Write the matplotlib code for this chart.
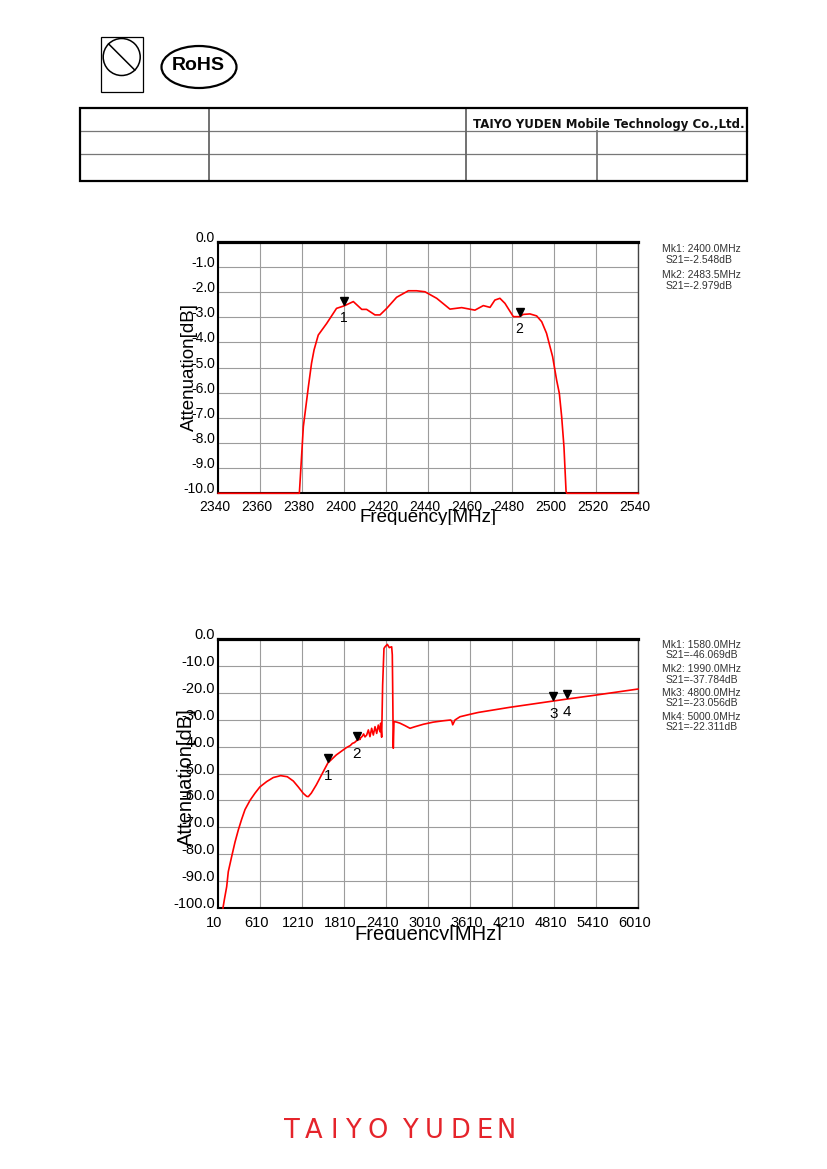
import matplotlib
matplotlib.use('Agg')
import matplotlib.pyplot as plt
from matplotlib.patches import Rectangle, Ellipse
from matplotlib.transforms import ScaledTranslation, Bbox, TransformedBbox, Affine2D

plt.rcParams['font.family'] = ['Liberation Sans', 'DejaVu Sans']

W, H, DPI = 827, 1169, 100

# ---------------- data: narrow band (passband) ----------------
nb_freq = [2340.0, 2378.6, 2380.5, 2382.9, 2384.4, 2385.6, 2387.6, 2391.6, 2396.3, 2400.0,
           2404.3, 2408.3, 2410.6, 2414.6, 2417.0, 2420.2, 2424.9, 2430.5, 2434.4, 2438.4,
           2444.0, 2450.3, 2455.9, 2462.2, 2466.2, 2469.4, 2471.7, 2474.1, 2476.5, 2480.5,
           2483.5, 2485.2, 2488.4, 2491.6, 2494.0, 2496.3, 2499.2, 2501.1, 2502.4, 2503.5,
           2504.6, 2505.6, 2506.0, 2540.0]
nb_db = [-10.0, -10.0, -7.35, -5.76, -4.83, -4.30, -3.71, -3.25, -2.65, -2.548,
         -2.38, -2.69, -2.69, -2.91, -2.91, -2.65, -2.21, -1.95, -1.95, -1.99,
         -2.25, -2.68, -2.62, -2.72, -2.54, -2.61, -2.32, -2.25, -2.45, -2.98,
         -2.979, -2.89, -2.87, -2.95, -3.18, -3.64, -4.57, -5.50, -6.03, -6.95,
         -8.15, -9.93, -10.0, -10.0]
nb_mk_freq = [2400.0, 2483.5]
nb_mk_db = [-2.548, -2.979]
nb_xticks = [2340, 2360, 2380, 2400, 2420, 2440, 2460, 2480, 2500, 2520, 2540]
nb_yticks = [0.0, -1.0, -2.0, -3.0, -4.0, -5.0, -6.0, -7.0, -8.0, -9.0, -10.0]

# ---------------- data: wide band ----------------
wb_freq = [81, 100, 134, 157, 205, 253, 300, 348, 396, 467,
           539, 608, 706, 800, 905, 1000, 1086, 1157, 1229, 1277,
           1300, 1343, 1415, 1510, 1580, 1700, 1843, 1900, 1930, 1960,
           1990, 2010, 2025, 2035, 2050, 2070, 2090, 2110, 2134, 2158,
           2181, 2205, 2229, 2253, 2277, 2300, 2324, 2334, 2348, 2352,
           2362, 2381, 2396, 2429, 2457, 2491, 2500, 2505, 2514, 2524,
           2563, 2610, 2681, 2753, 2824, 2943, 3086, 3229, 3334, 3350,
           3363, 3396, 3467, 3610, 3729, 4177, 4800, 5000, 5367, 6010]
wb_db = [-100.0, -97.0, -92.1, -86.5, -80.9, -75.5, -71.0, -67.0, -63.4, -60.0,
         -57.3, -55.0, -53.0, -51.5, -50.8, -51.2, -52.8, -55.0, -57.4, -58.5,
         -58.6, -57.3, -54.2, -49.5, -46.069, -43.1, -40.4, -39.6, -38.8, -38.5,
         -37.784, -37.6, -36.0, -37.4, -36.7, -36.2, -35.3, -36.4, -35.7, -33.8,
         -36.3, -33.2, -35.7, -32.6, -35.1, -32.0, -34.5, -31.3, -36.5, -31.0,
         -17.1, -3.5, -2.9, -2.0, -3.2, -2.9, -5.9, -17.1, -40.6, -30.7,
         -30.9, -31.3, -32.2, -33.2, -32.6, -31.7, -30.9, -30.4, -30.1, -30.6,
         -31.9, -30.1, -28.9, -28.0, -27.3, -25.4, -23.056, -22.311, -21.0, -18.6]
wb_mk_freq = [1580.0, 1990.0, 4800.0, 5000.0]
wb_mk_db = [-46.069, -37.784, -23.056, -22.311]
wb_xticks = [10, 610, 1210, 1810, 2410, 3010, 3610, 4210, 4810, 5410, 6010]
wb_yticks = [0.0, -10.0, -20.0, -30.0, -40.0, -50.0, -60.0, -70.0, -80.0, -90.0, -100.0]

RED = '#ff0000'
GRID = '#9c9c9c'

fig = plt.figure(figsize=(W / DPI, H / DPI), dpi=DPI)
fig.patch.set_facecolor('white')


def px_rect(l, t, r, b):
    return [l / W, 1 - b / H, (r - l) / W, (b - t) / H]


def px_off(dx, dy):
    # offset in pixels (dy positive = up)
    return ScaledTranslation(dx / DPI, dy / DPI, fig.dpi_scale_trans)


def setup_axes(ax, xticks, yticks, xlim, ylim, fs, xpad):
    ax.set_xlim(*xlim)
    ax.set_ylim(*ylim)
    ax.set_xticks(xticks, [str(v) for v in xticks])
    ax.set_yticks(yticks, ['%.1f' % v for v in yticks], va='baseline')
    ax.tick_params(axis='both', length=0, labelsize=fs, colors='black')
    ax.tick_params(axis='x', pad=xpad)
    ax.tick_params(axis='y', pad=2.3)
    ax.grid(True, color=GRID, lw=0.8)
    ax.set_axisbelow(True)
    ax.spines['top'].set_linewidth(2.3)
    ax.spines['left'].set_linewidth(1.5)
    ax.spines['bottom'].set_linewidth(1.5)
    ax.spines['right'].set_linewidth(1.0)
    ax.spines['right'].set_color('#444444')
    for lab in ax.get_xticklabels():
        lab.set_transform(lab.get_transform() + px_off(-3.5, 0))


def draw_markers(ax, mf, md, fs, lab_dy):
    tri = ax.transData + px_off(0, 5)
    ax.plot(mf, md, ls='none', marker='v', ms=5.5, color='black', transform=tri,
            zorder=4, clip_on=False)
    for i, (f, d) in enumerate(zip(mf, md)):
        ax.annotate(str(i + 1), (f, d), xytext=(0, -lab_dy * 72 / DPI),
                    textcoords='offset points', ha='center', va='center',
                    fontsize=fs, color='black', zorder=5)


def axis_labels(ax, fs, xl_y, yl_x, yl_y, clip_px):
    ax.set_xlabel('Frequency[MHz]', fontsize=fs, va='baseline')
    ax.xaxis.set_label_coords(0.5, xl_y)
    ax.set_ylabel('Attenuation[dB]', fontsize=fs, va='baseline')
    ax.yaxis.set_label_coords(yl_x, yl_y)
    # the reference cuts the x-axis title just below its baseline
    xl = ax.xaxis.label
    xl.set_clip_on(True)
    xl.set_clip_box(TransformedBbox(Bbox([[0, H - clip_px], [W, H]]), Affine2D()))


# ---------------- top chart ----------------
ax1 = fig.add_axes(px_rect(218.3, 241.7, 638.3, 493.3))
ax1.plot(nb_freq, nb_db, color=RED, lw=1.2, zorder=3, clip_on=False)
setup_axes(ax1, nb_xticks, nb_yticks, (2340, 2540), (-10, 0), 10, 4.8)
draw_markers(ax1, nb_mk_freq, nb_mk_db, 10, 12.5)
axis_labels(ax1, 13.5, -0.1153, -0.059, 0.503, 524.5)

# ---------------- bottom chart ----------------
ax2 = fig.add_axes(px_rect(218.0, 639.0, 638.0, 908.0))
ax2.plot(wb_freq, wb_db, color=RED, lw=1.2, zorder=3, clip_on=False)
setup_axes(ax2, wb_xticks, wb_yticks, (10, 6010), (-100, 0), 10.5, 5.6)
draw_markers(ax2, wb_mk_freq, wb_mk_db, 11, 13)
axis_labels(ax2, 14.5, -0.119, -0.063, 0.485, 940.0)

# ---------------- overlay (page decorations, marker readouts) ----------------
ov = fig.add_axes([0, 0, 1, 1], zorder=10)
ov.set_xlim(0, W)
ov.set_ylim(H, 0)
ov.axis('off')
ov.patch.set_alpha(0)

# icons
ov.add_patch(Rectangle((100.7, 36.7), 42.0, 55.6, fill=False, ec='black', lw=0.9))
ov.add_patch(Ellipse((121.7, 57.0), 37.0, 37.0, fill=False, ec='black', lw=1.1))
ov.plot([108.6, 134.8], [43.9, 70.1], color='black', lw=1.1)
ov.add_patch(Ellipse((199.0, 67.0), 75.0, 42.0, fill=False, ec='black', lw=1.6))
ov.text(198.5, 65.5, 'RoHS', ha='center', va='center', fontsize=14, fontweight='bold',
        color='black')

# title block table
ov.add_patch(Rectangle((80.0, 107.5), 667.0, 73.0, fill=False, ec='black', lw=1.6, zorder=3))
for yy in (130.5, 154.0):
    ov.plot([80, 747], [yy, yy], color='#777777', lw=0.9)
for xx in (209.0, 466.0):
    ov.plot([xx, xx], [107.5, 180.5], color='#666666', lw=1.3)
ov.plot([597.0, 597.0], [130.5, 180.5], color='#777777', lw=1.3)
ov.text(473.0, 128.0, 'TAIYO YUDEN Mobile Technology Co.,Ltd.', ha='left', va='baseline',
        fontsize=8.5, fontweight='bold', family='DejaVu Sans', color='#111111')

# marker readouts
nb_read_y = [249.0, 275.0]
for i, (f, d) in enumerate(zip(nb_mk_freq, nb_mk_db)):
    y0 = nb_read_y[i]
    ov.text(662.0, y0, 'Mk%d: %.1fMHz' % (i + 1, f), ha='left', va='center',
            fontsize=7.5, color='#333333')
    ov.text(665.5, y0 + 10.7, 'S21=%.3fdB' % d, ha='left', va='center',
            fontsize=7.5, color='#333333')

wb_read_y = [645.0, 669.5, 693.0, 716.5]
for i, (f, d) in enumerate(zip(wb_mk_freq, wb_mk_db)):
    y0 = wb_read_y[i]
    ov.text(662.0, y0, 'Mk%d: %.1fMHz' % (i + 1, f), ha='left', va='center',
            fontsize=7.5, color='#333333')
    ov.text(665.5, y0 + 10.5, 'S21=%.3fdB' % d, ha='left', va='center',
            fontsize=7.5, color='#333333')

# footer logo (letter-spaced)
logo = 'TAIYOYUDEN'
logo_x = [291.7, 314.0, 333.8, 353.3, 377.5, 409.8, 434.0, 460.0, 485.0, 505.7]
for ch, xx in zip(logo, logo_x):
    ov.text(xx, 1138.5, ch, ha='center', va='baseline', fontsize=18.5,
            family='DejaVu Sans', color='#e5242b')

fig.savefig('out.png', dpi=DPI, facecolor='white')
